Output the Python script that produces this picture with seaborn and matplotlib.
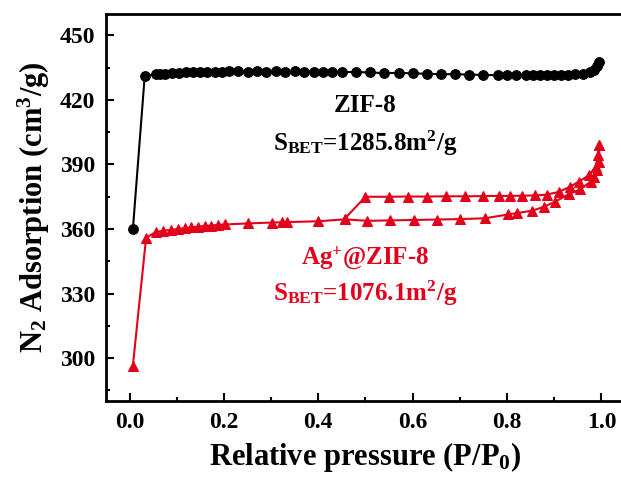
import matplotlib
matplotlib.use('Agg')
import matplotlib.pyplot as plt
import matplotlib.ticker as mticker
import pandas as pd
import seaborn as sns

# ZIF-8 isotherm (adsorption/desorption overlap)
zif_x = [0.007, 0.032, 0.055, 0.065, 0.075, 0.09, 0.105, 0.12, 0.135, 0.15, 0.165, 0.18, 0.195,
         0.21, 0.23, 0.25, 0.27, 0.29, 0.31, 0.33, 0.35, 0.37, 0.39, 0.41, 0.43, 0.45, 0.48, 0.51,
         0.54, 0.57, 0.60, 0.63, 0.66, 0.69, 0.72, 0.75, 0.78, 0.80, 0.82, 0.84, 0.855, 0.87, 0.885,
         0.90, 0.915, 0.93, 0.945, 0.96, 0.975, 0.985, 0.99, 0.995]
zif_y = [360, 431, 432, 432, 432.3, 432.5, 432.5, 432.8, 433, 433, 433, 433.2, 433, 433.5, 433.3,
         433, 433.5, 433.2, 433.4, 433, 433.4, 433.2, 433.2, 433, 433.2, 433, 433, 432.8, 432.5,
         432.6, 432.4, 432.2, 432, 432, 431.8, 431.7, 431.5, 431.5, 431.5, 431.5, 431.5, 431.5,
         431.5, 431.5, 431.6, 431.8, 432, 432.3, 433, 434, 436, 437.5]

# Ag+@ZIF-8 adsorption branch
ag_ads_x = [0.007, 0.035, 0.055, 0.071, 0.088, 0.102, 0.117, 0.131, 0.145, 0.159, 0.173, 0.188,
            0.202, 0.251, 0.301, 0.322, 0.333, 0.400, 0.456, 0.503, 0.552, 0.602, 0.651, 0.701,
            0.754, 0.803, 0.821, 0.853, 0.878, 0.902, 0.931, 0.955, 0.977, 0.984, 0.991, 0.994, 0.996]
ag_ads_y = [296.5, 356, 358.5, 359.2, 359.6, 360, 360.4, 360.8, 361.1, 361.4, 361.6, 361.9, 362.1,
            362.6, 363, 363.1, 363.2, 363.6, 364.5, 363.8, 364, 364.2, 364.4, 364.6, 365, 366.8,
            367.4, 368.5, 370.3, 372.7, 376.2, 378.4, 382, 384, 387.4, 391.2, 399]

# Ag+@ZIF-8 desorption branch
ag_des_x = [0.996, 0.993, 0.988, 0.974, 0.952, 0.933, 0.910, 0.885, 0.860, 0.832, 0.807, 0.782,
            0.750, 0.71, 0.67, 0.63, 0.59, 0.55, 0.50, 0.456]
ag_des_y = [399, 394.5, 389, 385, 382, 379.6, 377.3, 376, 375.6, 375.5, 375.4, 375.4, 375.3,
            375.2, 375.2, 375.1, 375.1, 375, 375, 364.8]

RED = '#e3001b'

sns.set_style('ticks')
plt.rcParams['font.family'] = ['Liberation Serif', 'DejaVu Serif']
plt.rcParams['font.weight'] = 'bold'
plt.rcParams['mathtext.fontset'] = 'custom'
plt.rcParams['mathtext.rm'] = 'Liberation Serif:bold'
plt.rcParams['mathtext.bf'] = 'Liberation Serif:bold'
plt.rcParams['mathtext.it'] = 'Liberation Serif:bold:italic'
for key in ['text.color', 'axes.labelcolor', 'xtick.color', 'ytick.color', 'axes.edgecolor']:
    plt.rcParams[key] = 'black'

fig = plt.figure(figsize=(6.21, 4.79), dpi=100)
ax = fig.add_axes([0.1707, 0.1628, 0.8357, 0.808])

zif = pd.DataFrame({'p': zif_x, 'v': zif_y})
ads = pd.DataFrame({'p': ag_ads_x, 'v': ag_ads_y})
des = pd.DataFrame({'p': ag_des_x, 'v': ag_des_y})

sns.lineplot(data=zif, x='p', y='v', ax=ax, sort=False, estimator=None, color='black',
             marker='o', markersize=7, markeredgecolor='black', linewidth=1.5)
sns.lineplot(data=ads, x='p', y='v', ax=ax, sort=False, estimator=None, color=RED,
             marker='^', markersize=7.5, markeredgecolor=RED, linewidth=1.5)
sns.lineplot(data=des, x='p', y='v', ax=ax, sort=False, estimator=None, color=RED,
             marker='^', markersize=7.5, markeredgecolor=RED, linewidth=1.5)

ax.set_xlim(-0.05, 1.05)
ax.set_ylim(280, 460)
ax.xaxis.set_major_locator(mticker.MultipleLocator(0.2))
ax.xaxis.set_minor_locator(mticker.MultipleLocator(0.1))
ax.yaxis.set_major_locator(mticker.MultipleLocator(30))
ax.yaxis.set_minor_locator(mticker.MultipleLocator(15))
ax.xaxis.set_major_formatter(mticker.FormatStrFormatter('%.1f'))
ax.tick_params(which='major', direction='in', length=6, width=1.5, labelsize=17, pad=8)
ax.tick_params(which='minor', direction='in', length=3, width=1.5)
for s in ax.spines.values():
    s.set_linewidth(2)

ax.set_xlabel('Relative pressure (P/P$_0$)', fontsize=22, fontweight='bold', labelpad=5)
ax.set_ylabel('N$_2$ Adsorption (cm$^3$/g)', fontsize=22, fontweight='bold', labelpad=5)

ax.text(0.5, 417.5, 'ZIF-8', ha='center', va='center', fontsize=18, fontweight='bold', color='black')
ax.text(0.5, 400, r'S$_\mathrm{BET}$=1285.8m$^\mathrm{2}$/g', ha='center', va='center',
        fontsize=18, fontweight='bold', color='black')
ax.text(0.5, 346.5, r'Ag$^\mathrm{+}$@ZIF-8', ha='center', va='center', fontsize=18,
        fontweight='bold', color=RED)
ax.text(0.5, 330, r'S$_\mathrm{BET}$=1076.1m$^\mathrm{2}$/g', ha='center', va='center',
        fontsize=18, fontweight='bold', color=RED)

fig.savefig('out.png', dpi=100)
